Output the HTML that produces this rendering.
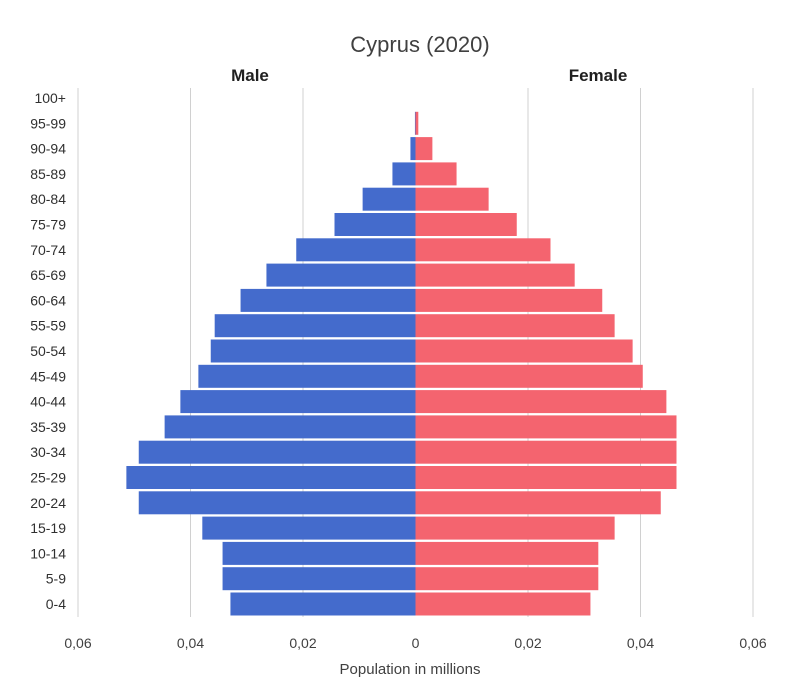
<!DOCTYPE html>
<html><head><meta charset="utf-8"><style>
body{margin:0;background:#fff;}
svg{display:block;font-family:"Liberation Sans",sans-serif;}
</style></head><body>
<svg id="chart" width="788" height="698">
<rect x="0" y="0" width="788" height="698" fill="#ffffff"/>
<text x="420" y="52" font-size="22" fill="#404040" text-anchor="middle">Cyprus (2020)</text>
<text x="250" y="81" font-size="17" font-weight="bold" fill="#202020" text-anchor="middle">Male</text>
<text x="598" y="81" font-size="17" font-weight="bold" fill="#202020" text-anchor="middle">Female</text>
<text x="410" y="674" font-size="15" fill="#404040" text-anchor="middle">Population in millions</text>
<g id="grid"></g><g id="bars"></g><g id="labels"></g>
</svg>
<script>
const ageGroups=["0-4","5-9","10-14","15-19","20-24","25-29","30-34","35-39","40-44","45-49","50-54","55-59","60-64","65-69","70-74","75-79","80-84","85-89","90-94","95-99","100+"];
const maleValues=[0.0329,0.0343,0.0343,0.0379,0.0492,0.0514,0.0492,0.0446,0.0418,0.0386,0.0364,0.0357,0.0311,0.0265,0.0212,0.0144,0.0094,0.0041,0.0009,0.0001,0];
const femaleValues=[0.0311,0.0325,0.0325,0.0354,0.0436,0.0464,0.0464,0.0464,0.0446,0.0404,0.0386,0.0354,0.0332,0.0283,0.0240,0.0180,0.0130,0.0073,0.0030,0.0005,0];
const tickValues=[-0.06,-0.04,-0.02,0,0.02,0.04,0.06];
const tickLabels=["0,06","0,04","0,02","0","0,02","0,04","0,06"];
const NS="http://www.w3.org/2000/svg";
const x0=415.5,scale=5625;
const xs=v=>x0+v*scale;
const yTop=98,step=25.3;
const yc=i=>yTop+(ageGroups.length-1-i)*step;
function mk(tag,attrs,parent){const e=document.createElementNS(NS,tag);for(const k in attrs)e.setAttribute(k,attrs[k]);document.getElementById(parent).appendChild(e);return e;}
tickValues.forEach((v,i)=>{
 if(v!==0){const l=mk("line",{x1:xs(v),x2:xs(v),y1:88,y2:617,stroke:"#d0d0d0","stroke-width":1},"grid");
 
 }
 const t=mk("text",{x:xs(v),y:648,"font-size":14,fill:"#404040","text-anchor":"middle"},"labels");
 t.textContent=tickLabels[i];
 
 
});
ageGroups.forEach((g,i)=>{
 const y=yc(i);
 const t=mk("text",{x:66,y:y+5,"font-size":14,fill:"#303030","text-anchor":"end"},"labels");
 t.textContent=g;
 
 
 if(maleValues[i]>0){const r=mk("rect",{x:xs(-maleValues[i]),y:y-11.5,width:maleValues[i]*scale,height:23,fill:"#446bcc"},"bars");
 
 }
 if(femaleValues[i]>0){const r=mk("rect",{x:x0,y:y-11.5,width:femaleValues[i]*scale,height:23,fill:"#f4646f"},"bars");
 
 }
});
</script>
</body></html>
